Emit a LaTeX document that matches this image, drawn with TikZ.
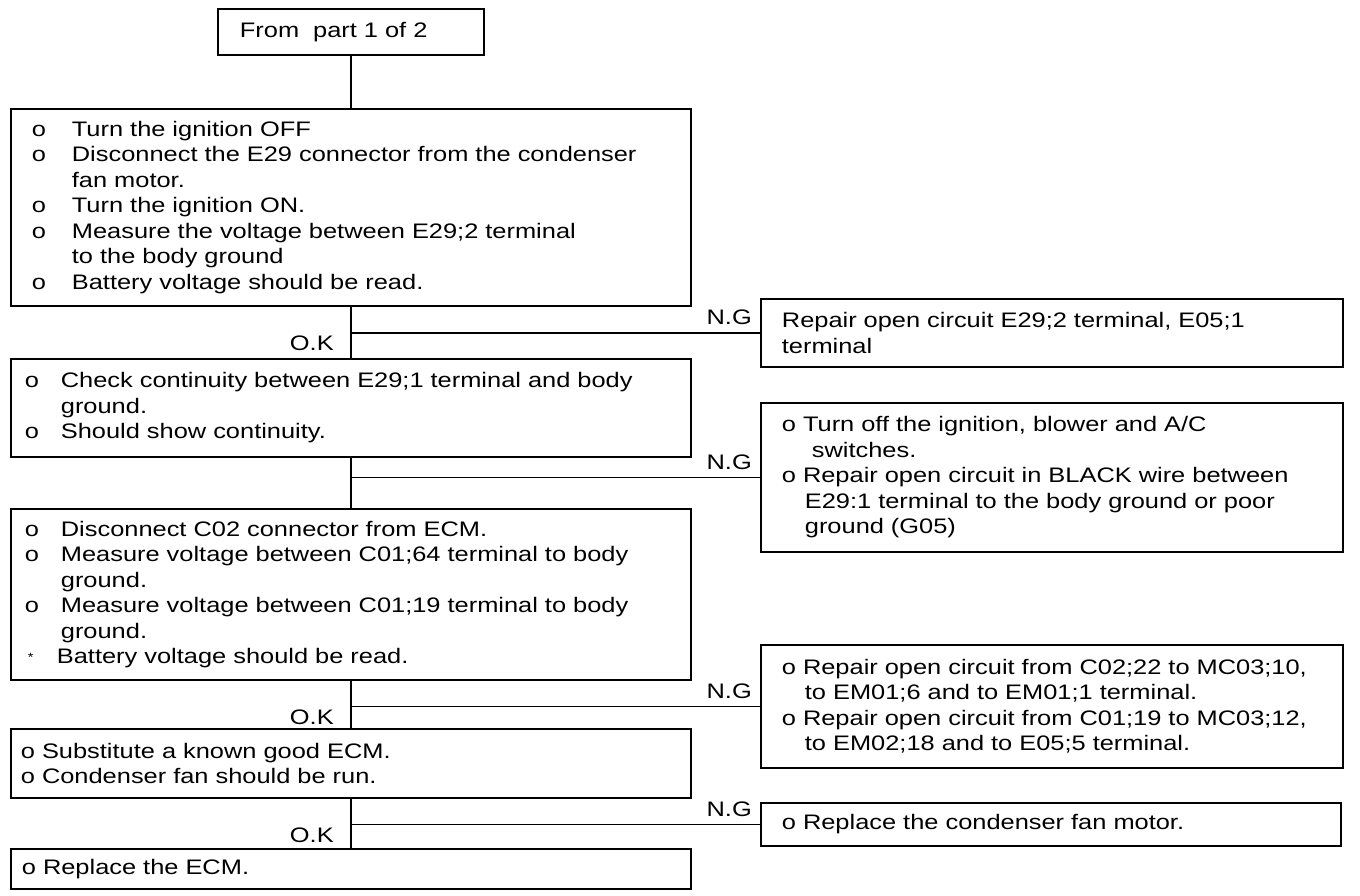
\documentclass[tikz,border=0pt]{standalone}
\usepackage{fontspec}
\setmainfont{Liberation Sans}[FakeStretch=1.21]
\usetikzlibrary{calc}
\begin{document}
\begin{tikzpicture}[x=1pt,y=-1pt,
  every node/.style={font=\fontsize{21}{25.5}\selectfont},
  box/.style={draw,line width=1.8pt,anchor=north west,align=left,inner ysep=0pt},
  conn/.style={line width=1.8pt},
  lab/.style={inner sep=0pt,anchor=base east}]
\useasboundingbox (0,0) rectangle (1360,896);
\newcommand{\ind}[1]{\makebox[#1][l]{o}}
\newcommand{\hang}[1]{\hspace*{#1}}
% main column
\node[box,minimum width=266pt,minimum height=46pt,text width=222pt,inner xsep=22pt] (b0) at (217,8) {From\ \ part 1 of 2};
\node[box,minimum width=680pt,minimum height=197pt,text width=638pt,inner xsep=21pt] (b1) at (10,108)
 {\ind{40pt}Turn the ignition OFF\\
  \ind{40pt}Disconnect the E29 connector from the condenser\\
  \hang{40pt}fan motor.\\
  \ind{40pt}Turn the ignition ON.\\
  \ind{40pt}Measure the voltage between E29;2 terminal\\
  \hang{40pt}to the body ground\\
  \ind{40pt}Battery voltage should be read.};
\node[box,minimum width=680pt,minimum height=98pt,text width=652pt,inner xsep=14pt] (b2) at (10,358)
 {\ind{36pt}Check continuity between E29;1 terminal and body\\
  \hang{36pt}ground.\\
  \ind{36pt}Should show continuity.};
\node[box,minimum width=680pt,minimum height=171pt,text width=652pt,inner xsep=14pt] (b3) at (10,508)
 {\ind{36pt}Disconnect C02 connector from ECM.\\
  \ind{36pt}Measure voltage between C01;64 terminal to body\\
  \hang{36pt}ground.\\
  \ind{36pt}Measure voltage between C01;19 terminal to body\\
  \hang{36pt}ground.\\
  \makebox[32pt][l]{\hspace*{3pt}\raisebox{2pt}{\fontsize{12}{12}\selectfont *}}Battery voltage should be read.};
\node[box,minimum width=680pt,minimum height=69pt,text width=660pt,inner xsep=10pt] (b4) at (10,728)
 {o Substitute a known good ECM.\\
  o Condenser fan should be run.};
\node[box,minimum width=680pt,minimum height=40pt,text width=658pt,inner xsep=11pt] (b5) at (10,848)
 {o Replace the ECM.};
% right column
\node[box,minimum width=582pt,minimum height=68pt,text width=540pt,inner xsep=21pt] (n1) at (760,298)
 {Repair open circuit E29;2 terminal, E05;1\\terminal};
\node[box,minimum width=582pt,minimum height=149pt,text width=540pt,inner xsep=21pt] (n2) at (760,402)
 {o Turn off the ignition, blower and A/C\\
  \hang{30pt}switches.\\
  o Repair open circuit in BLACK wire between\\
  \hang{23pt}E29:1 terminal to the body ground or poor\\
  \hang{23pt}ground (G05)};
\node[box,minimum width=582pt,minimum height=123pt,text width=540pt,inner xsep=21pt] (n3) at (760,644)
 {o Repair open circuit from C02;22 to MC03;10,\\
  \hang{23pt}to EM01;6 and to EM01;1 terminal.\\
  o Repair open circuit from C01;19 to MC03;12,\\
  \hang{23pt}to EM02;18 and to E05;5 terminal.};
\node[box,minimum width=580pt,minimum height=43pt,text width=538pt,inner xsep=21pt] (n4) at (760,802)
 {o Replace the condenser fan motor.};
% connectors
\draw[conn] (b0.south) -- (b1.north);
\draw[conn] (b1.south) -- (b2.north);
\draw[conn] (b2.south) -- (b3.north);
\draw[conn] (b3.south) -- (b4.north);
\draw[conn] (b4.south) -- (b5.north);
\coordinate (j1) at (b1.south |- n1.west);
\coordinate (j2) at (b2.south |- n2.west);
\coordinate (j3) at (b3.south |- n3.west);
\coordinate (j4) at (b4.south |- n4.west);
\draw[conn] (j1) -- (n1.west);
\draw[conn] (j2) -- (n2.west);
\draw[conn] (j3) -- (n3.west);
\draw[conn] (j4) -- (n4.west);
% labels
\node[lab] (g1) at ($(n1.west)+(-8,-8)$) {N.G};
\node[lab] (g2) at ($(n2.west)+(-8,-8)$) {N.G};
\node[lab] (g3) at ($(n3.west)+(-8,-8)$) {N.G};
\node[lab] (g4) at ($(n4.west)+(-8,-8)$) {N.G};
\node[lab] (k1) at ($(j1)+(-17,18)$) {O.K};
\node[lab] (k3) at ($(j3)+(-17,18)$) {O.K};
\node[lab] (k4) at ($(j4)+(-17,18)$) {O.K};
\end{tikzpicture}
\end{document}
